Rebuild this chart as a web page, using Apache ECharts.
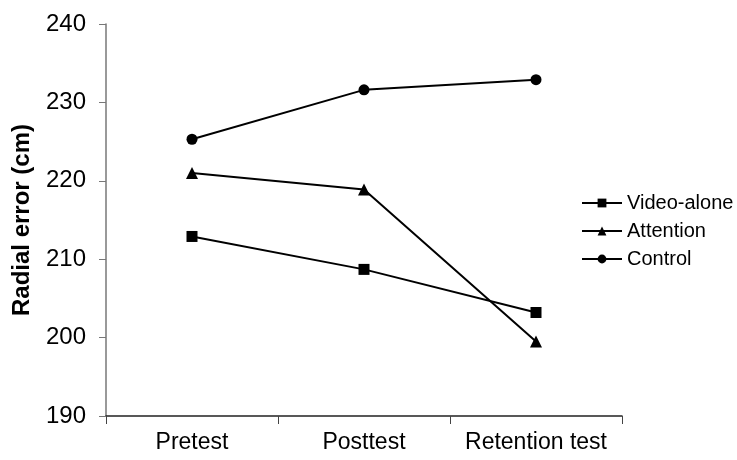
<!DOCTYPE html>
<html>
<head>
<meta charset="utf-8">
<script src="https://cdn.jsdelivr.net/npm/echarts@6/dist/echarts.min.js"></script>
<style>
  html, body { margin: 0; padding: 0; background: #fff; }
  #main { width: 737px; height: 460px; }
</style>
</head>
<body>
<div id="main"></div>
<script>
var chartDom = document.getElementById('main');
var myChart = echarts.init(chartDom);
var option;

var phases = ['Pretest', 'Posttest', 'Retention test'];
var videoAlone = [212.9, 208.7, 203.2];
var attention = [221.0, 218.9, 199.5];
var control = [225.3, 231.6, 232.9];

var font = 'Arial, "Liberation Sans", sans-serif';

function lineSeries(name, data, symbol, size) {
  return {
    name: name,
    type: 'line',
    data: data,
    symbol: symbol,
    symbolSize: size,
    lineStyle: { color: '#000', width: 2 },
    itemStyle: { color: '#000' }
  };
}

option = {
  animation: false,
  backgroundColor: '#fff',
  textStyle: { fontFamily: font, color: '#000' },
  grid: {
    left: 106,
    right: 115,
    top: 24,
    bottom: 44
  },
  legend: {
    orient: 'vertical',
    left: 576,
    top: 188,
    itemWidth: 40,
    itemHeight: 11,
    itemGap: 8,
    textStyle: { fontSize: 20, color: '#000', fontFamily: font },
    data: ['Video-alone', 'Attention', 'Control']
  },
  xAxis: {
    type: 'category',
    data: phases,
    boundaryGap: true,
    axisLine: { lineStyle: { color: '#222', width: 1.5 } },
    axisTick: { show: true, length: 8, lineStyle: { color: '#444', width: 1 } },
    axisLabel: { fontSize: 23, color: '#000', margin: 15, interval: 0 }
  },
  yAxis: {
    type: 'value',
    min: 190,
    max: 240,
    interval: 10,
    name: 'Radial error (cm)',
    nameLocation: 'middle',
    nameGap: 72,
    nameTextStyle: { fontSize: 24, fontWeight: 'bold', color: '#000' },
    axisLine: { show: true, lineStyle: { color: '#777', width: 1.5 } },
    axisTick: { show: true, length: 7, lineStyle: { color: '#777' } },
    axisLabel: { fontSize: 24, color: '#000', margin: 20 },
    splitLine: { show: false }
  },
  series: [
    lineSeries('Video-alone', videoAlone, 'rect', 11),
    lineSeries('Attention', attention, 'triangle', 12),
    lineSeries('Control', control, 'circle', 11)
  ]
};

option && myChart.setOption(option);
</script>
</body>
</html>
